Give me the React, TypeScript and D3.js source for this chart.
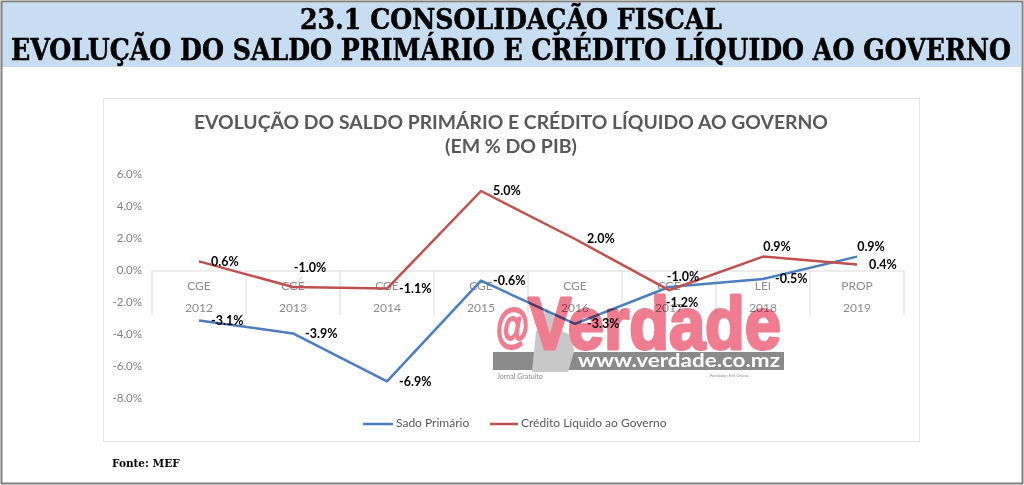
import React from "react";
import * as d3 from "d3";

const categoryTypes = ["CGE", "CGE", "CGE", "CGE", "CGE", "CGE", "LEI", "PROP"];
const years = ["2012", "2013", "2014", "2015", "2016", "2017", "2018", "2019"];
const saldoPrimario = [-3.1, -3.9, -6.9, -0.6, -3.3, -1.0, -0.5, 0.9];
const creditoLiquido = [0.6, -1.0, -1.1, 5.0, 2.0, -1.2, 0.9, 0.4];
const yTicks = [6, 4, 2, 0, -2, -4, -6, -8];
const seriesNames = ["Sado Primário", "Crédito Líquido ao Governo"];

const saldoPlacement = ["right", "right", "right", "right", "right", "above", "right", "above"];
const creditoPlacement = ["right", "aboveLeader", "right", "right", "right", "below", "above", "right"];

const W = 1024;
const H = 485;
const BLUE = "#4a7ebf";
const RED = "#c0504d";
const FONT = "Lato, 'Open Sans', sans-serif";
const PINK = "#ef7d8f";

export default function App() {
  const x = d3.scaleBand<string>().domain(years).range([152, 904]).padding(0);
  const y = d3.scaleLinear().domain([-8, 6]).range([399, 175]);
  const cx = (i: number) => (x(years[i]) as number) + x.bandwidth() / 2;
  const line = d3
    .line<number>()
    .x((_, i) => cx(i))
    .y((v) => y(v));
  const fmt = (v: number) => d3.format(".1f")(v).replace("−", "-") + "%";

  const labelFor = (v: number, i: number, place: string, key: string) => {
    const px = cx(i);
    const py = y(v);
    const common = {
      fontFamily: FONT,
      fontWeight: 700,
      fontSize: 12.5,
      fill: "#000",
    } as const;
    if (place === "right") {
      return (
        <text key={key} x={px + 12} y={py + 1} dominantBaseline="middle" {...common}>
          {fmt(v)}
        </text>
      );
    }
    if (place === "above") {
      return (
        <text key={key} x={px + 14} y={py - 9} textAnchor="middle" dominantBaseline="middle" {...common}>
          {fmt(v)}
        </text>
      );
    }
    if (place === "below") {
      return (
        <text key={key} x={px + 13} y={py + 14} textAnchor="middle" dominantBaseline="middle" {...common}>
          {fmt(v)}
        </text>
      );
    }
    return (
      <g key={key}>
        <line x1={px + 2} y1={py - 2} x2={px + 9} y2={py - 10} stroke="#bfbfbf" strokeWidth={1} />
        <text x={px + 17} y={py - 18} textAnchor="middle" dominantBaseline="middle" {...common}>
          {fmt(v)}
        </text>
      </g>
    );
  };

  return (
    <svg
      width={W}
      height={H}
      viewBox={`0 0 ${W} ${H}`}
      style={{ position: "absolute", left: 0, top: 0, background: "#fff" }}
    >
      {/* outer frame */}
      <rect x={0} y={0} width={W} height={H} fill="#fff" />
      <rect x={2} y={3} width={1019} height={64} fill="#c7ddf1" />
      <rect x={1.5} y={1.5} width={W - 3} height={H - 3} fill="none" stroke="#7f7f7f" strokeWidth={2} />

      {/* header titles */}
      <text
        x={511}
        y={29}
        textAnchor="middle"
        fontFamily="'DejaVu Serif', serif"
        fontWeight={700}
        fontSize={27}
        textLength={422}
        lengthAdjust="spacingAndGlyphs"
        fill="#000"
        stroke="#000"
        strokeWidth={0.5}
      >
        23.1 CONSOLIDAÇÃO FISCAL
      </text>
      <text
        x={511}
        y={60}
        textAnchor="middle"
        fontFamily="'DejaVu Serif', serif"
        fontWeight={700}
        fontSize={30}
        textLength={1000}
        lengthAdjust="spacingAndGlyphs"
        fill="#000"
        stroke="#000"
        strokeWidth={0.5}
      >
        EVOLUÇÃO DO SALDO PRIMÁRIO E CRÉDITO LÍQUIDO AO GOVERNO
      </text>

      {/* chart box */}
      <rect x={103.5} y={98.5} width={816} height={343} fill="#fff" stroke="#e3e3e3" strokeWidth={1} />

      {/* chart title */}
      <text
        x={511}
        y={129}
        textAnchor="middle"
        fontFamily={FONT}
        fontWeight={700}
        fontSize={19.5}
        textLength={634}
        lengthAdjust="spacingAndGlyphs"
        fill="#595959"
      >
        EVOLUÇÃO DO SALDO PRIMÁRIO E CRÉDITO LÍQUIDO AO GOVERNO
      </text>
      <text x={511} y={153} textAnchor="middle" fontFamily={FONT} fontWeight={700} fontSize={19.5} fill="#595959">
        (EM % DO PIB)
      </text>

      {/* y axis tick labels */}
      {yTicks.map((t) => (
        <text
          key={t}
          x={142}
          y={y(t)}
          textAnchor="end"
          dominantBaseline="middle"
          fontFamily={FONT}
          fontSize={11.5}
          fill="#7f7f7f"
        >
          {d3.format(".1f")(t).replace("−", "-")}%
        </text>
      ))}

      {/* category axis */}
      <line x1={152} x2={904} y1={y(0)} y2={y(0)} stroke="#d9d9d9" strokeWidth={1} />
      {years.concat(["end"]).map((yr, i) => {
        const xx = i < years.length ? (x(yr) as number) : 904;
        return <line key={"t" + i} x1={xx} x2={xx} y1={y(0)} y2={315} stroke="#d9d9d9" strokeWidth={1} />;
      })}
      {years.map((yr, i) => (
        <g key={"c" + yr}>
          <text x={cx(i)} y={287} textAnchor="middle" dominantBaseline="middle" fontFamily={FONT} fontSize={12} fill="#8c8c8c">
            {categoryTypes[i]}
          </text>
          <text x={cx(i)} y={309} textAnchor="middle" dominantBaseline="middle" fontFamily={FONT} fontSize={12} fill="#8c8c8c">
            {yr}
          </text>
        </g>
      ))}

      {/* series lines */}
      <path d={line(saldoPrimario) || ""} fill="none" stroke={BLUE} strokeWidth={2.5} strokeLinejoin="round" />
      <path d={line(creditoLiquido) || ""} fill="none" stroke={RED} strokeWidth={2.5} strokeLinejoin="round" />

      {/* data labels */}
      {saldoPrimario.map((v, i) => labelFor(v, i, saldoPlacement[i], "s" + i))}
      {creditoLiquido.map((v, i) => labelFor(v, i, creditoPlacement[i], "c" + i))}

      {/* legend */}
      <line x1={363} x2={393} y1={424} y2={424} stroke={BLUE} strokeWidth={2.5} />
      <text x={396} y={424} dominantBaseline="middle" fontFamily={FONT} fontSize={12} fill="#595959">
        {seriesNames[0]}
      </text>
      <line x1={490} x2={518} y1={424} y2={424} stroke={RED} strokeWidth={2.5} />
      <text x={521} y={424} dominantBaseline="middle" fontFamily={FONT} fontSize={12} fill="#595959">
        {seriesNames[1]}
      </text>

      {/* watermark */}
      <g style={{ mixBlendMode: "multiply" }}>
        <rect x={493} y={352} width={291} height={18} fill="#8a8a8a" />
        <path d="M532,372 L536,332 L546,310 L556,318 L560,330 L572,336 L574,352 L568,372 Z" fill="#c8c8c8" />
        <text
          x={496}
          y={342}
          fontFamily="'Liberation Sans', sans-serif"
          fontWeight={700}
          fontSize={46}
          textLength={33}
          lengthAdjust="spacingAndGlyphs"
          fill={PINK}
          stroke={PINK}
          strokeWidth={2}
        >
          @
        </text>
        <text
          x={528}
          y={349}
          fontFamily="'Liberation Sans Narrow', 'Liberation Sans', sans-serif"
          fontWeight={700}
          fontSize={74}
          textLength={253}
          lengthAdjust="spacingAndGlyphs"
          fill={PINK}
          stroke={PINK}
          strokeWidth={3}
          strokeLinejoin="round"
        >
          Verdade
        </text>
        <text
          x={780}
          y={367}
          textAnchor="end"
          fontFamily={FONT}
          fontWeight={700}
          fontSize={19}
          textLength={202}
          lengthAdjust="spacingAndGlyphs"
          fill="#fff"
        >
          www.verdade.co.mz
        </text>
        <text x={497} y={379} fontFamily={FONT} fontSize={7} fill="#8a8a8a">
          Jornal Gratuito
        </text>
        <text x={710} y={377} fontFamily={FONT} fontSize={4} fill="#8a8a8a">
          Fundador: Erik Charas
        </text>
      </g>

      {/* source */}
      <text x={112} y={467} fontFamily="'DejaVu Serif', serif" fontWeight={700} fontSize={10.5} fill="#000">
        Fonte: MEF
      </text>
    </svg>
  );
}
